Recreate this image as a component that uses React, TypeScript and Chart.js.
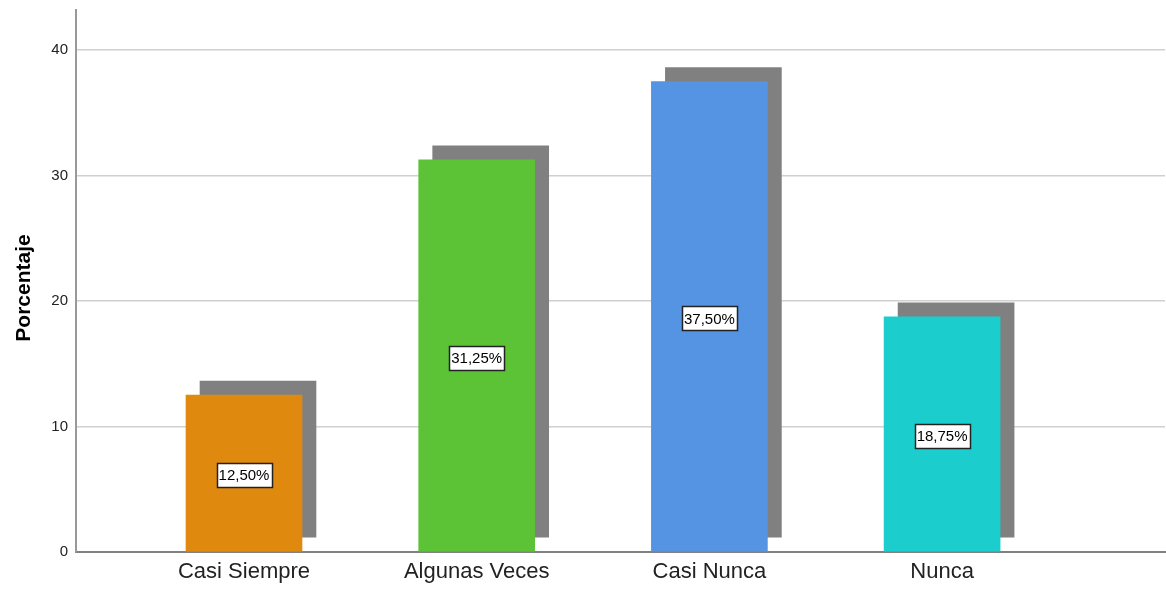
import React, { useEffect, useRef } from "react";
import { Chart, registerables } from "chart.js";

Chart.register(...registerables);

const categories = ["Casi Siempre", "Algunas Veces", "Casi Nunca", "Nunca"];
const percentages = [12.5, 31.25, 37.5, 18.75];
const barColors = ["#E0890F", "#5CC337", "#5494E3", "#1CCDCD"];
const yTicks = [0, 10, 20, 30, 40];
const yTitle = "Porcentaje";

const FONT = "'Liberation Sans', Arial, sans-serif";

const shadowPlugin = {
  id: "barShadow",
  beforeDatasetDraw(chart: any) {
    const ctx = chart.ctx;
    ctx.save();
    ctx.shadowColor = "#808080";
    ctx.shadowOffsetX = 14;
    ctx.shadowOffsetY = -14;
    ctx.shadowBlur = 0;
  },
  afterDatasetDraw(chart: any) {
    chart.ctx.restore();
  },
};

const labelPlugin = {
  id: "boxLabels",
  afterDatasetsDraw(chart: any) {
    const ctx = chart.ctx;
    const meta = chart.getDatasetMeta(0);
    ctx.save();
    ctx.font = `15px ${FONT}`;
    ctx.textAlign = "center";
    ctx.textBaseline = "middle";
    meta.data.forEach((bar: any, i: number) => {
      const text = percentages[i].toFixed(2).replace(".", ",") + "%";
      const w = ctx.measureText(text).width + 4;
      const h = 24;
      const cx = bar.x;
      const cy = (bar.y + bar.base) / 2 + 2;
      ctx.fillStyle = "#ffffff";
      ctx.fillRect(Math.round(cx - w / 2) + 0.5, Math.round(cy - h / 2) + 0.5, Math.round(w), h);
      ctx.strokeStyle = "#222222";
      ctx.lineWidth = 1.5;
      ctx.strokeRect(Math.round(cx - w / 2) + 0.5, Math.round(cy - h / 2) + 0.5, Math.round(w), h);
      ctx.fillStyle = "#000000";
      ctx.fillText(text, cx, cy + 1);
    });
    ctx.restore();
  },
};

const yTitlePlugin = {
  id: "yTitle",
  afterDraw(chart: any) {
    const ctx = chart.ctx;
    const area = chart.chartArea;
    ctx.save();
    ctx.translate(24, (area.top + area.bottom) / 2 + 7);
    ctx.rotate(-Math.PI / 2);
    ctx.font = `bold 21px ${FONT}`;
    ctx.fillStyle = "#000000";
    ctx.textAlign = "center";
    ctx.textBaseline = "middle";
    ctx.fillText(yTitle, 0, 0);
    ctx.restore();
  },
};

export default function App() {
  const ref = useRef<HTMLCanvasElement | null>(null);

  useEffect(() => {
    if (!ref.current) return;
    const chart = new Chart(ref.current, {
      type: "bar",
      data: {
        datasets: [
          {
            data: percentages.map((v, i) => ({ x: i + 1, y: v })),
            backgroundColor: barColors,
            borderWidth: 0,
            barThickness: 116,
          },
        ],
      },
      options: {
        animation: false,
        responsive: true,
        maintainAspectRatio: false,
        layout: { padding: { top: 10, right: 1, left: 0, bottom: 0 } },
        plugins: {
          legend: { display: false },
          tooltip: { enabled: false },
        },
        scales: {
          x: {
            type: "linear",
            offset: false,
            min: 0.278,
            max: 4.958,
            afterBuildTicks: (scale: any) => {
              scale.ticks = categories.map((_, i) => ({ value: i + 1 }));
            },
            afterFit: (scale: any) => {
              scale.height = 38;
              scale.paddingLeft = 0;
              scale.paddingRight = 0;
            },
            grid: { display: false, drawTicks: false, offset: false },
            border: { display: true, color: "#808080", width: 2 },
            ticks: {
              padding: 7,
              autoSkip: false,
              maxRotation: 0,
              color: "#222222",
              font: { family: FONT, size: 22 },
              callback: (v: any) => categories[Number(v) - 1] ?? "",
            },
          },
          y: {
            min: 0,
            max: 43.2,
            afterBuildTicks: (scale: any) => {
              scale.ticks = yTicks.map((v) => ({ value: v }));
            },
            afterFit: (scale: any) => {
              scale.width = 76;
              scale.paddingTop = 0;
              scale.paddingBottom = 0;
            },
            grid: {
              drawTicks: false,
              color: (c: any) => (c.tick && c.tick.value === 0 ? "rgba(0,0,0,0)" : "#d0d0d0"),
              lineWidth: 1.5,
            },
            border: { display: true, color: "#999999", width: 2 },
            ticks: {
              padding: 8,
              color: "#222222",
              font: { family: FONT, size: 15 },
            },
          },
        },
      },
      plugins: [shadowPlugin, labelPlugin, yTitlePlugin],
    });
    return () => chart.destroy();
  }, []);

  return (
    <div style={{ position: "fixed", left: 0, top: 0, width: 1166, height: 590, background: "#fff" }}>
      <canvas ref={ref} />
    </div>
  );
}
